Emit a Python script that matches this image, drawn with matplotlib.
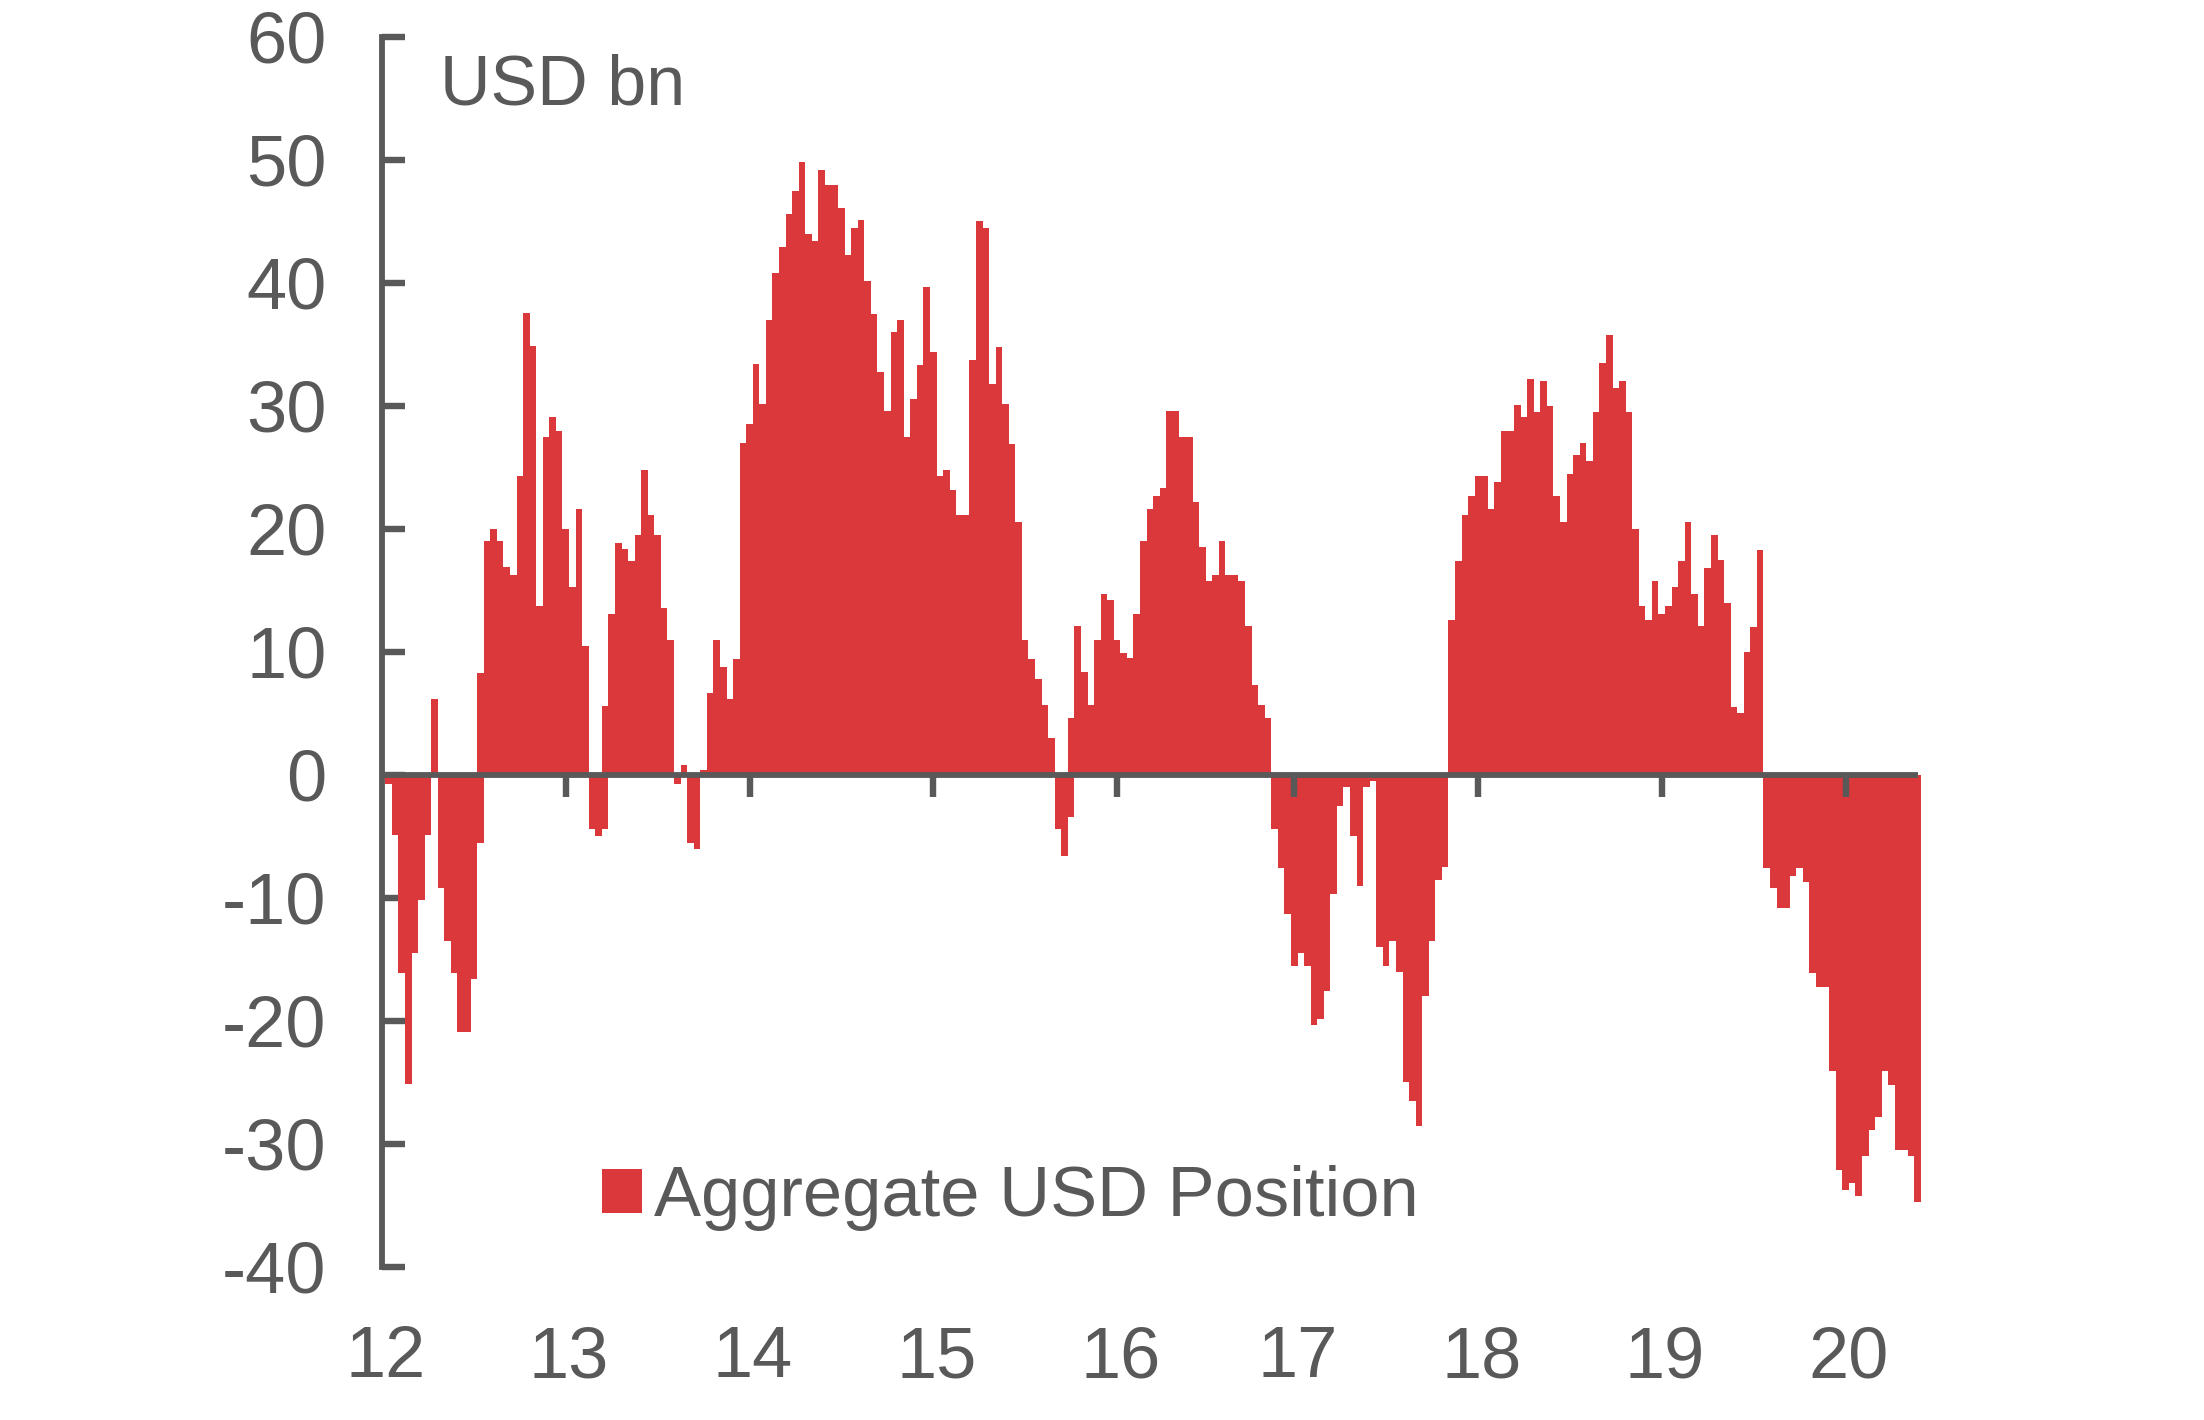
import matplotlib
matplotlib.use("Agg")
import matplotlib.pyplot as plt
from matplotlib.patches import Patch

# ---------------- data ----------------
year_labels = ["12", "13", "14", "15", "16", "17", "18", "19", "20"]
year_tick_bar = [-1, 27, 55, 83, 111, 138, 166, 194, 222]   # bar index at each year tick

position_usd_bn = [
    -0.7, -4.9, -16.1, -25.1, -14.5, -10.2, -4.9, 6.2, -9.2, -13.5,
    -16.1, -20.9, -20.9, -16.6, 8.3, 19.0, 20.0, 19.0, 16.9, 16.3,
    24.3, 37.6, 34.9, 13.7, 27.5, 29.1, 28.0, 20.0, 15.3, 21.6,
    10.5, -4.4, -5.0, 5.6, 13.1, 18.9, 18.4, 17.4, 19.5, 24.8,
    21.1, 19.5, 13.6, 11.0, -0.75, 0.8, -5.5, -6.0, 0.4, 6.7,
    11.0, 8.8, 6.2, 9.4, 27.0, 28.5, 33.4, 30.2, 37.0, 40.8,
    42.9, 45.6, 47.5, 49.8, 44.0, 43.4, 49.2, 48.0, 48.0, 46.1,
    42.3, 44.5, 45.1, 40.2, 37.5, 32.8, 29.6, 36.0, 37.0, 27.5,
    30.6, 33.3, 39.7, 34.4, 24.3, 24.8, 23.2, 21.1, 21.1, 33.7,
    45.0, 44.5, 31.8, 34.8, 30.2, 26.9, 20.6, 11.0, 9.4, 7.8,
    5.7, 3.0, -4.4, -6.6, 4.6, 12.1, 8.4, 5.7, 11.0, 14.7,
    14.2, 11.0, 9.9, 9.5, 13.1, 19.0, 21.6, 22.7, 23.3, 29.6,
    29.6, 27.5, 27.5, 22.2, 18.5, 15.8, 16.3, 19.0, 16.3, 16.3,
    15.8, 12.1, 7.3, 5.7, 4.6, -4.4, -7.6, -11.3, -15.5, -14.5,
    -15.5, -20.3, -19.8, -17.6, -9.7, -2.5, -1.0, -5.0, -9.0, -1.0,
    -0.5, -14.0, -15.5, -13.5, -16.0, -25.0, -26.5, -28.5, -18.0, -13.5,
    -8.5, -7.5, 12.6, 17.4, 21.1, 22.7, 24.3, 24.3, 21.6, 23.8,
    28.0, 28.0, 30.1, 29.1, 32.2, 29.5, 32.0, 30.0, 22.7, 20.6,
    24.5, 26.0, 27.0, 25.5, 29.5, 33.5, 35.8, 31.5, 32.0, 29.5,
    20.0, 13.7, 12.6, 15.8, 13.1, 13.7, 15.3, 17.4, 20.6, 14.7,
    12.1, 16.8, 19.5, 17.5, 14.0, 5.5, 5.0, 10.0, 12.0, 18.3,
    -7.6, -9.2, -10.8, -10.8, -8.2, -7.6, -8.7, -16.1, -17.2, -17.2,
    -24.1, -32.1, -33.7, -33.2, -34.2, -31.0, -28.9, -27.8, -24.1, -25.2,
    -30.5, -30.5, -31.0, -34.7,
]
# weeks where a second (opposite-sign) reading shares the same slot
shared_slot_bar = [14, 33, 104]
shared_slot_value = [-5.5, -4.4, -3.4]

y_ticks = [60, 50, 40, 30, 20, 10, 0, -10, -20, -30, -40]
y_tick_labels = ["60", "50", "40", "30", "20", "10", "0", "-10", "-20", "-30", "-40"]
unit_label = "USD bn"
series_name = "Aggregate USD Position"

# ---------------- style ----------------
RED = "#DA383A"
GREY = "#595959"
FONT = ["Liberation Sans", "DejaVu Sans"]
plt.rcParams["font.family"] = FONT
FS = 26

fig = plt.figure(figsize=(11.02, 7.10), dpi=200)
ax = fig.add_axes([0.17332, 0.10775, 0.69828, 0.86620])

x = list(range(len(position_usd_bn)))
ax.bar(x, position_usd_bn, width=1.0, color=RED, linewidth=0, antialiased=False, zorder=2)
ax.bar(shared_slot_bar, shared_slot_value, width=1.0, color=RED, linewidth=0,
       antialiased=False, zorder=2)

ax.set_xlim(-1.0, 233.5)
ax.set_ylim(-40, 60)

# zero line with downward year ticks
ax.hlines(0, -1.0, 233.0, color=GREY, linewidth=2.1, zorder=3)
ax.vlines(year_tick_bar[1:], -1.8, 0, color=GREY, linewidth=2.3, zorder=3)

for s in ["top", "right", "bottom"]:
    ax.spines[s].set_visible(False)
ax.spines["left"].set_color(GREY)
ax.spines["left"].set_linewidth(2.1)
ax.spines["left"].set_zorder(4)

ax.set_yticks(y_ticks)
ax.set_yticklabels(y_tick_labels)
ax.tick_params(axis="y", direction="in", length=8.3, width=2.3, color=GREY,
               labelcolor=GREY, labelsize=FS, pad=20)

ax.set_xticks([b + 0.5 for b in year_tick_bar])
ax.set_xticklabels(year_labels)
ax.tick_params(axis="x", length=0, labelcolor=GREY, labelsize=FS, pad=21)

ax.text(7.8, 54.5, unit_label, color=GREY, fontsize=FS - 0.8, va="baseline", ha="left")

leg = ax.legend(handles=[Patch(facecolor=RED, edgecolor="none", label=series_name)],
                loc="lower left", bbox_to_anchor=(0.2731, 0.1331),
                bbox_transform=fig.transFigure, frameon=False, fontsize=FS - 0.6,
                handlelength=0.57, handleheight=0.57, handletextpad=0.17,
                borderpad=0, borderaxespad=0)
for t in leg.get_texts():
    t.set_color(GREY)

fig.savefig("out.png", dpi=200)
